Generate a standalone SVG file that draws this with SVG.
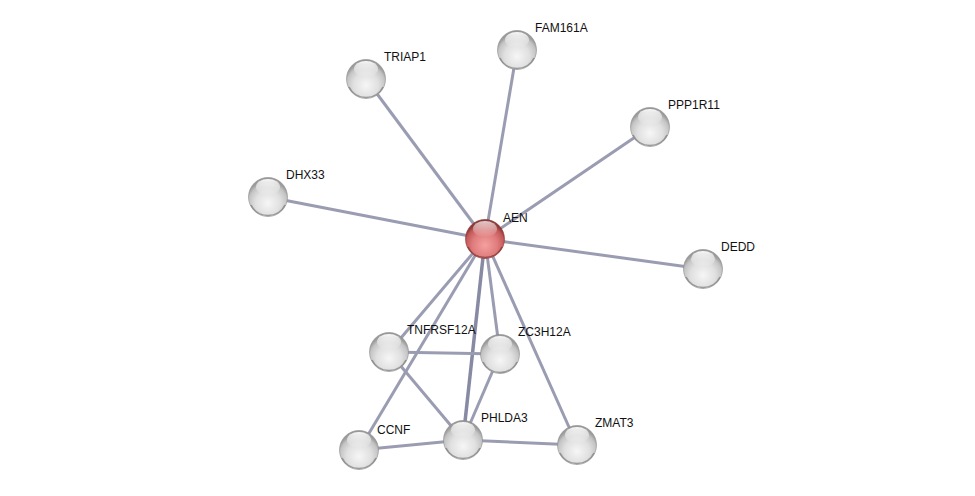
<svg xmlns="http://www.w3.org/2000/svg" width="975" height="496" viewBox="0 0 975 496">
<style>
.e{stroke:#9a9db2;stroke-width:3;fill:none;stroke-linecap:butt}
.e2{stroke:#878aa2;stroke-width:3.5;fill:none}
.lbl{font-family:"Liberation Sans",Arial,sans-serif;font-size:12px;fill:#111}
</style>
<defs>
<radialGradient id="g" cx="0.5" cy="0.66" r="0.58">
<stop offset="0" stop-color="#f6f6f6"/>
<stop offset="0.55" stop-color="#e0e0e0"/>
<stop offset="0.85" stop-color="#c4c4c4"/>
<stop offset="1" stop-color="#9a9a9a"/>
</radialGradient>
<radialGradient id="r" cx="0.5" cy="0.66" r="0.58">
<stop offset="0" stop-color="#f4a0a0"/>
<stop offset="0.55" stop-color="#e07c7c"/>
<stop offset="0.85" stop-color="#c45a5a"/>
<stop offset="1" stop-color="#8e3838"/>
</radialGradient>
<linearGradient id="h" x1="0" y1="0" x2="0" y2="1">
<stop offset="0" stop-color="#fff" stop-opacity="0.95"/>
<stop offset="1" stop-color="#fff" stop-opacity="0"/>
</linearGradient>
<g id="ball">
<circle r="19.5" fill="url(#g)" stroke="#8c8c8c" stroke-width="0.6"/>
<path d="M-17,8 A19,19 0 0 0 17,8" fill="none" stroke="#555" stroke-opacity="0.5" stroke-width="1.5"/>
<ellipse cx="0" cy="-10" rx="12" ry="8" fill="url(#h)"/>
</g>
<g id="rball">
<circle r="19.5" fill="url(#r)" stroke="#8a3030" stroke-width="0.6"/>
<path d="M-17,8 A19,19 0 0 0 17,8" fill="none" stroke="#5a1a1a" stroke-opacity="0.5" stroke-width="1.5"/>
<ellipse cx="0" cy="-10" rx="12" ry="8" fill="url(#h)" opacity="0.8"/>
</g>
</defs>
<rect width="975" height="496" fill="#fff"/>
<g id="edges">
<line class="e" x1="485" y1="239" x2="517" y2="50"/>
<line class="e" x1="485" y1="239" x2="366" y2="79"/>
<line class="e" x1="485" y1="239" x2="650" y2="127"/>
<line class="e" x1="485" y1="239" x2="268" y2="197"/>
<line class="e" x1="485" y1="239" x2="703" y2="269"/>
<line class="e" x1="485" y1="239" x2="389" y2="352"/>
<line class="e" x1="485" y1="239" x2="359" y2="450"/>
<line class="e2" x1="485" y1="239" x2="463" y2="440"/>
<line class="e" x1="485" y1="239" x2="500" y2="354"/>
<line class="e" x1="485" y1="239" x2="577" y2="445"/>
<line class="e" x1="389" y1="352" x2="500" y2="354"/>
<line class="e" x1="389" y1="352" x2="463" y2="440"/>
<line class="e" x1="500" y1="354" x2="463" y2="440"/>
<line class="e" x1="359" y1="450" x2="463" y2="440"/>
<line class="e" x1="463" y1="440" x2="577" y2="445"/>
</g>
<g id="FAM161A"><use href="#ball" x="517" y="50"/><text class="lbl" x="535" y="32">FAM161A</text></g>
<g id="TRIAP1"><use href="#ball" x="366" y="79"/><text class="lbl" x="384" y="61">TRIAP1</text></g>
<g id="PPP1R11"><use href="#ball" x="650" y="127"/><text class="lbl" x="668" y="109">PPP1R11</text></g>
<g id="DHX33"><use href="#ball" x="268" y="197"/><text class="lbl" x="286" y="179">DHX33</text></g>
<g id="DEDD"><use href="#ball" x="703" y="269"/><text class="lbl" x="721" y="251">DEDD</text></g>
<g id="AEN"><use href="#rball" x="485" y="239"/><text class="lbl" x="503" y="222">AEN</text></g>
<g id="TNFRSF12A"><use href="#ball" x="389" y="352"/><text class="lbl" x="407" y="334">TNFRSF12A</text></g>
<g id="ZC3H12A"><use href="#ball" x="500" y="354"/><text class="lbl" x="518" y="336">ZC3H12A</text></g>
<g id="CCNF"><use href="#ball" x="359" y="450"/><text class="lbl" x="377" y="434">CCNF</text></g>
<g id="PHLDA3"><use href="#ball" x="463" y="440"/><text class="lbl" x="481" y="422">PHLDA3</text></g>
<g id="ZMAT3"><use href="#ball" x="577" y="445"/><text class="lbl" x="595" y="427">ZMAT3</text></g>
</svg>
